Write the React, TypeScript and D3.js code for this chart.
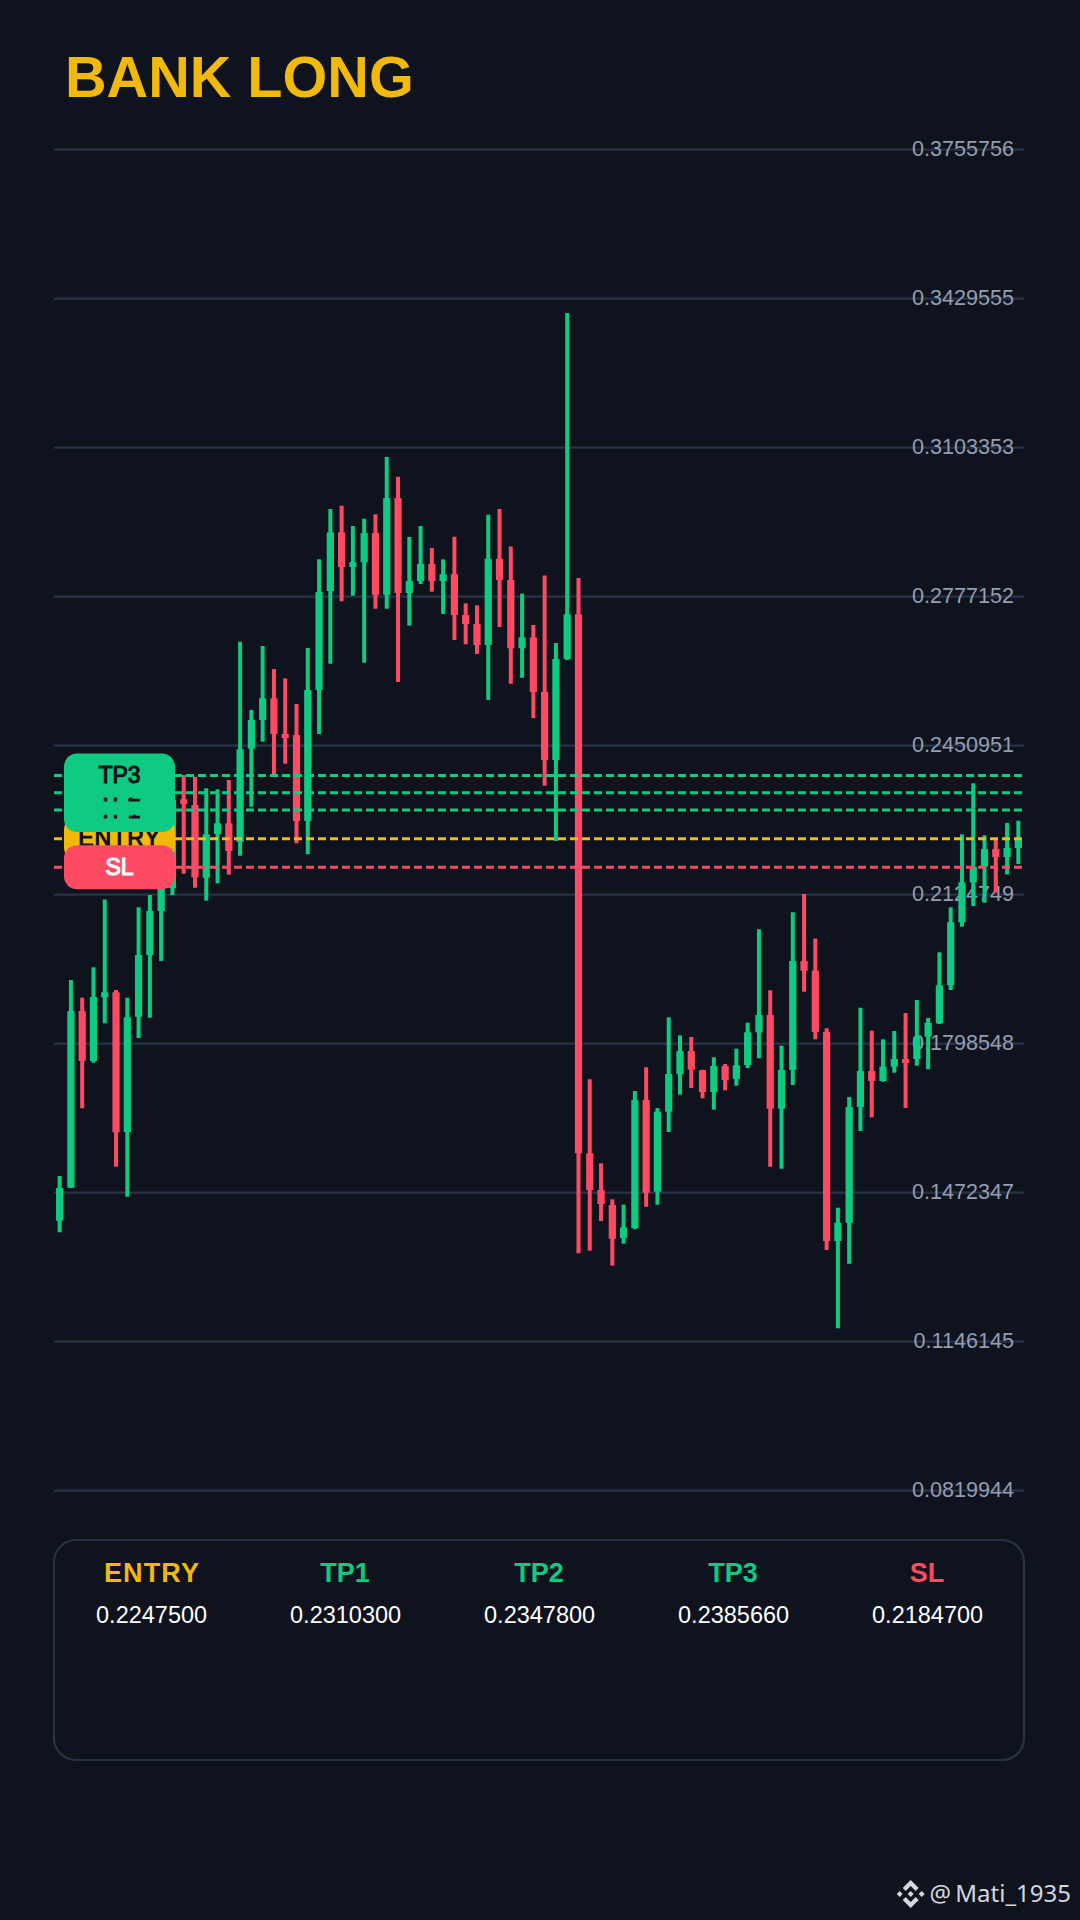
import React, { useRef, useEffect } from "react";
import * as d3 from "d3";

const opens = [
  0.14111, 0.14833, 0.18701, 0.17606, 0.19001, 0.19111, 0.16052, 0.18576, 0.19927, 0.2089,
  0.21394, 0.23336, 0.23211, 0.2162, 0.22577, 0.22811, 0.22402, 0.24444, 0.25072, 0.25547,
  0.24766, 0.24744, 0.22862, 0.25729, 0.27896, 0.29181, 0.28421, 0.28524, 0.29165, 0.27815,
  0.29932, 0.27852, 0.28115, 0.28487, 0.28115, 0.28262, 0.27371, 0.27174, 0.26714, 0.28603,
  0.28137, 0.26643, 0.26878, 0.25685, 0.24197, 0.26408, 0.27386, 0.15586, 0.14783, 0.14454,
  0.13731, 0.1395, 0.16753, 0.14746, 0.16497, 0.17322, 0.17825, 0.17403, 0.16928, 0.17497,
  0.17212, 0.17519, 0.18235, 0.18614, 0.16563, 0.17409, 0.19796, 0.19583, 0.18241, 0.13666,
  0.14066, 0.166, 0.17387, 0.17169, 0.17482, 0.1765, 0.1765, 0.18138, 0.18432, 0.19264,
  0.20643, 0.21519, 0.21861, 0.22248, 0.22073, 0.2227,
];
const highs = [
  0.15089, 0.1938, 0.18992, 0.19658, 0.21142, 0.19161, 0.18992, 0.20971, 0.21241, 0.21788,
  0.23759, 0.23868, 0.23831, 0.23577, 0.23555, 0.23759, 0.26786, 0.25291, 0.26692, 0.26188,
  0.25983, 0.25422, 0.26648, 0.2859, 0.29691, 0.29763, 0.29319, 0.29479, 0.29575, 0.30829,
  0.30398, 0.29078, 0.29319, 0.28838, 0.2859, 0.29084, 0.27627, 0.27583, 0.29566, 0.29691,
  0.28873, 0.27839, 0.27152, 0.28238, 0.2676, 0.33984, 0.28183, 0.17206, 0.15367, 0.14579,
  0.14461, 0.1695, 0.17468, 0.16578, 0.18563, 0.18169, 0.18132, 0.17416, 0.17688, 0.17541,
  0.17876, 0.18445, 0.2049, 0.19154, 0.17941, 0.20862, 0.21263, 0.20288, 0.18322, 0.14395,
  0.16819, 0.18773, 0.1827, 0.18082, 0.18263, 0.18657, 0.18942, 0.18548, 0.19986, 0.20971,
  0.2257, 0.23687, 0.22548, 0.22445, 0.22817, 0.22867,
];
const lows = [
  0.13857, 0.14833, 0.16571, 0.17569, 0.18432, 0.15292, 0.14636, 0.1811, 0.18554, 0.19796,
  0.21241, 0.21707, 0.214, 0.21116, 0.21497, 0.21686, 0.22101, 0.23174, 0.24597, 0.2389,
  0.24114, 0.22372, 0.22132, 0.24766, 0.26304, 0.27671, 0.27793, 0.26326, 0.27508, 0.27508,
  0.25904, 0.27136, 0.28049, 0.27881, 0.27393, 0.26823, 0.26729, 0.26517, 0.2551, 0.27108,
  0.25865, 0.25997, 0.25112, 0.23634, 0.22424, 0.26386, 0.13397, 0.13454, 0.14104, 0.13126,
  0.13607, 0.13922, 0.14417, 0.14461, 0.16052, 0.16869, 0.17015, 0.1679, 0.16541, 0.16965,
  0.17066, 0.17453, 0.17666, 0.15292, 0.15248, 0.17081, 0.19124, 0.18082, 0.13469, 0.11755,
  0.1317, 0.16074, 0.16374, 0.17153, 0.1735, 0.16578, 0.17504, 0.17425, 0.18417, 0.19161,
  0.20547, 0.20999, 0.21072, 0.21291, 0.21691, 0.2192,
];
const closes = [
  0.14826, 0.18701, 0.17606, 0.19008, 0.19111, 0.16046, 0.18563, 0.19927, 0.2089, 0.21394,
  0.23321, 0.23233, 0.21628, 0.2257, 0.22811, 0.22204, 0.24431, 0.25072, 0.25547, 0.24766,
  0.24678, 0.22862, 0.25729, 0.27874, 0.29181, 0.28421, 0.28524, 0.29165, 0.27815, 0.29932,
  0.27852, 0.28115, 0.28487, 0.28115, 0.28262, 0.27371, 0.27174, 0.26714, 0.28603, 0.28137,
  0.26643, 0.26878, 0.25685, 0.24197, 0.26408, 0.27386, 0.15586, 0.14783, 0.14476, 0.13717,
  0.13966, 0.16753, 0.14724, 0.16497, 0.17322, 0.17825, 0.17416, 0.16928, 0.17497, 0.17191,
  0.17512, 0.18235, 0.18614, 0.16563, 0.17409, 0.19796, 0.19583, 0.18241, 0.13666, 0.14066,
  0.166, 0.17387, 0.17169, 0.17482, 0.1765, 0.17563, 0.18138, 0.18445, 0.19264, 0.20643,
  0.21519, 0.21861, 0.22248, 0.22073, 0.2227, 0.22467,
];

const tickValues = [0.3755756, 0.3429555, 0.3103353, 0.2777152, 0.2450951, 0.2124749, 0.1798548, 0.1472347, 0.1146145, 0.0819944];

// draw order matters here, the tags overlap each other
const tagNames = ["ENTRY", "SL", "TP1", "TP2", "TP3"];
const tagPrices = [0.22475, 0.21847, 0.23103, 0.23478, 0.238566];

const panelNames = ["ENTRY", "TP1", "TP2", "TP3", "SL"];
const panelPrices = ["0.2247500", "0.2310300", "0.2347800", "0.2385660", "0.2184700"];

const BG = "#0e131d";
const GREEN = "#0ecb81";
const RED = "#ff4a63";
const YELLOW = "#f0b90b";
const GRID = "#283247";
const FONT = "'Liberation Sans', Arial, sans-serif";

const levelColor = (name: string) => (name === "ENTRY" ? YELLOW : name === "SL" ? RED : GREEN);
const tagInk = (name: string) => (name === "SL" ? "#ffffff" : "#0d111b");

export default function App() {
  const svgRef = useRef<SVGSVGElement | null>(null);

  useEffect(() => {
    if (!svgRef.current) return;
    const svg = d3.select(svgRef.current);
    svg.selectAll("*").remove();

    const left = 54;
    const right = 1024;

    const x = d3
      .scaleBand<number>()
      .domain(d3.range(opens.length))
      .range([left, right])
      .paddingInner(0.36)
      .paddingOuter(0.18);
    const y = d3.scaleLinear().domain([0.3755756, 0.0819944]).range([149.7, 1490.7]);
    const cx = (i: number) => x(i)! + x.bandwidth() / 2;

    svg.append("rect").attr("width", 1080).attr("height", 1920).attr("fill", BG);

    svg
      .append("text")
      .attr("x", 65)
      .attr("y", 96.7)
      .attr("fill", YELLOW)
      .attr("font-family", FONT)
      .attr("font-weight", 700)
      .attr("font-size", 57.6)
      .text("BANK LONG");

    // Grid and price labels sit under the candles
    const ticks = svg.append("g").selectAll("g").data(tickValues).enter().append("g");
    ticks
      .append("line")
      .attr("x1", left)
      .attr("x2", right)
      .attr("y1", (d) => y(d))
      .attr("y2", (d) => y(d))
      .attr("stroke", GRID)
      .attr("stroke-width", 2.2);
    ticks
      .append("text")
      .attr("x", 1014)
      .attr("y", (d) => y(d) + 6.3)
      .attr("text-anchor", "end")
      .attr("fill", "#949eb2")
      .attr("font-family", FONT)
      .attr("font-size", 21.6)
      .text((d) => d.toFixed(7));

    // Candles
    const candles = svg.append("g").selectAll("g").data(d3.range(opens.length)).enter().append("g");
    const candleColor = (i: number) => (closes[i] >= opens[i] ? GREEN : RED);
    candles
      .append("line")
      .attr("x1", cx)
      .attr("x2", cx)
      .attr("y1", (i) => y(highs[i]))
      .attr("y2", (i) => y(lows[i]))
      .attr("stroke", candleColor)
      .attr("stroke-width", 4);
    candles
      .append("rect")
      .attr("x", (i) => x(i)!)
      .attr("width", x.bandwidth())
      .attr("y", (i) => y(Math.max(opens[i], closes[i])))
      .attr("height", (i) => Math.abs(y(opens[i]) - y(closes[i])))
      .attr("fill", candleColor);

    // Dashed levels
    svg
      .append("g")
      .selectAll("line")
      .data(tagNames.map((name, i) => ({ name, price: tagPrices[i] })))
      .enter()
      .append("line")
      .attr("x1", left)
      .attr("x2", right)
      .attr("y1", (d) => y(d.price))
      .attr("y2", (d) => y(d.price))
      .attr("stroke", (d) => levelColor(d.name))
      .attr("stroke-width", 3)
      .attr("stroke-dasharray", "8 4");

    // Level tags
    const tags = svg
      .append("g")
      .selectAll("g")
      .data(tagNames.map((name, i) => ({ name, price: tagPrices[i] })))
      .enter()
      .append("g");
    tags
      .append("rect")
      .attr("x", 64)
      .attr("y", (d) => y(d.price) - 22)
      .attr("width", 111)
      .attr("height", 44)
      .attr("rx", 13)
      .attr("fill", (d) => levelColor(d.name));
    tags
      .append("text")
      .attr("x", 119.5)
      .attr("y", (d) => y(d.price) + 7.8)
      .attr("text-anchor", "middle")
      .attr("fill", (d) => tagInk(d.name))
      .attr("stroke", (d) => tagInk(d.name))
      .attr("stroke-width", 1.1)
      .attr("letter-spacing", (d) => (d.name === "ENTRY" ? 1 : 0))
      .attr("font-family", FONT)
      .attr("font-size", 23)
      .text((d) => d.name);

    // Bottom panel
    svg
      .append("rect")
      .attr("x", 54)
      .attr("y", 1540)
      .attr("width", 970)
      .attr("height", 220)
      .attr("rx", 22)
      .attr("fill", "none")
      .attr("stroke", GRID)
      .attr("stroke-width", 2.2);

    const columns = d3.scaleBand<number>().domain(d3.range(panelNames.length)).range([left, right]);
    const cols = svg.append("g").selectAll("g").data(panelNames).enter().append("g");
    cols
      .append("text")
      .attr("x", (d, i) => columns(i)! + columns.bandwidth() / 2 + (d === "ENTRY" ? 1 : 0))
      .attr("y", 1582)
      .attr("text-anchor", "middle")
      .attr("fill", (d) => levelColor(d))
      .attr("letter-spacing", (d) => (d === "ENTRY" ? 1.1 : 0))
      .attr("font-family", FONT)
      .attr("font-weight", 700)
      .attr("font-size", 27)
      .text((d) => d);
    cols
      .append("text")
      .attr("x", (_, i) => columns(i)! + columns.bandwidth() / 2 + 0.6)
      .attr("y", 1623)
      .attr("text-anchor", "middle")
      .attr("fill", "#ffffff")
      .attr("font-family", FONT)
      .attr("font-size", 23.5)
      .text((_, i) => panelPrices[i]);

    // Watermark
    const mark = svg.append("g").attr("transform", "translate(910.7,1894)").attr("fill", "#d5d8de");
    [
      "M0,-14L8,-6L5,-3L0,-8L-5,-3L-8,-6Z",
      "M0,14L8,6L5,3L0,8L-5,3L-8,6Z",
      "M0,-3L3,0L0,3L-3,0Z",
      "M-11,-3L-8,0L-11,3L-14,0Z",
      "M11,-3L14,0L11,3L8,0Z",
    ].forEach((d) => mark.append("path").attr("d", d));
    svg
      .append("text")
      .attr("x", 1071)
      .attr("y", 1902)
      .attr("text-anchor", "end")
      .attr("fill", "#d5d8de")
      .attr("word-spacing", -2)
      .attr("font-family", "'Noto Sans', sans-serif")
      .attr("font-size", 24)
      .text("@ Mati_1935");
  }, []);

  return (
    <svg
      ref={svgRef}
      width={1080}
      height={1920}
      style={{ position: "absolute", left: 0, top: 0, display: "block" }}
    />
  );
}
